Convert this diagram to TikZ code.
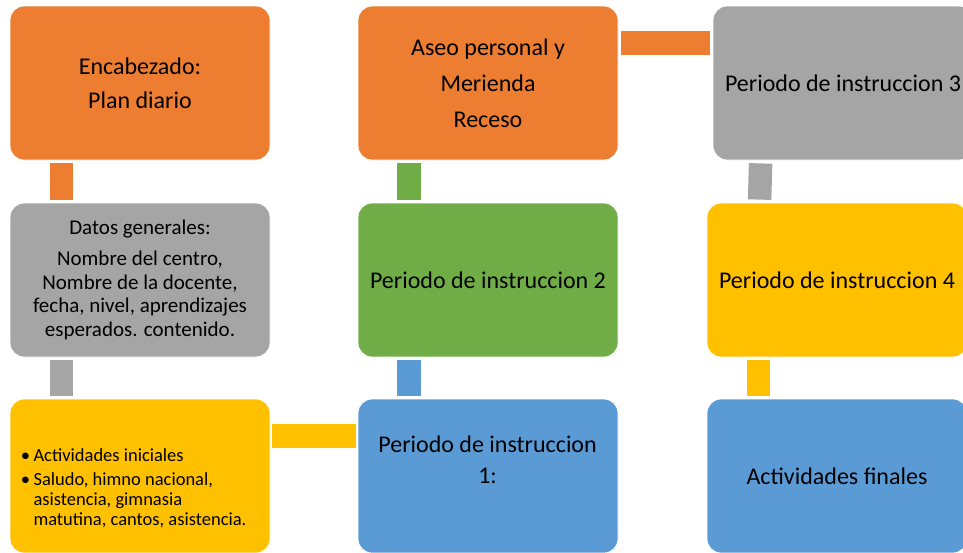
\documentclass[tikz,border=0pt]{standalone}
\usepackage{fontspec}
\setmainfont{Carlito}
\usetikzlibrary{calc}
\definecolor{cOrange}{HTML}{ED7D31}
\definecolor{cGray}{HTML}{A5A5A5}
\definecolor{cYellow}{HTML}{FFC000}
\definecolor{cBlue}{HTML}{5B9BD5}
\definecolor{cGreen}{HTML}{70AD47}
\begin{document}
\begin{tikzpicture}[x=1pt,y=-1pt,
  box/.style={rectangle, rounded corners=14pt, minimum width=260pt, minimum height=154pt,
    draw=white, line width=0.8pt, align=center, inner sep=0pt, font=\fontsize{24}{30}\selectfont},
  bar/.style={line width=23.5pt},
  lbl/.style={align=center, inner sep=0pt}]
\useasboundingbox (0,0) rectangle (963,552);
% boxes
\node[box, fill=cOrange, font=\fontsize{24}{34}\selectfont] (a) at (140,83) {Encabezado:\\Plan diario};
\node[box, fill=cGray, font=\fontsize{21}{23.5}\selectfont] (b) at (140,280) {Datos generales:\\[7.5pt]Nombre del centro,\\Nombre de la docente,\\fecha, nivel, aprendizajes\\esperados. contenido.};
\node[box, fill=cYellow] (c) at (140,476) {};
\node[box, fill=cBlue] (d) at (488,476) {};
\node[box, fill=cGreen] (e) at (488,280) {Periodo de instruccion 2};
\node[box, fill=cOrange, font=\fontsize{24}{36}\selectfont] (f) at (488,83) {Aseo personal y\\Merienda\\Receso};
\node[box, fill=cGray] (g) at (843,83) {Periodo de instruccion 3};
\node[box, fill=cYellow] (h) at (837,280) {Periodo de instruccion 4};
\node[box, fill=cBlue] (i) at (837,476) {Actividades finales};
% texts placed inside boxes
\node[lbl, anchor=base west, font=\fontsize{18.5}{20}\selectfont] (ct) at ($(c.north west)+(11,63)$)
  {\begin{tabular}[t]{@{}l@{\hspace{3.5pt}}l@{}}
   \textbullet & Actividades iniciales\\[3.5pt]
   \textbullet & Saludo, himno nacional,\\
    & asistencia, gimnasia\\
    & matutina, cantos, asistencia.
   \end{tabular}};
\node[lbl, font=\fontsize{24}{31}\selectfont] (dt) at ($(d.north west)+(130,61)$) {Periodo de instruccion\\1:};
% connectors
\draw[bar, cOrange] ($(a.south west)+(52,3)$) -- ($(b.north west)+(52,-3)$);
\draw[bar, cGray] ($(b.south west)+(52,3)$) -- ($(c.north west)+(52,-3)$);
\draw[bar, cYellow] ($(c.north east)+(2,37.5)$) -- ($(d.north west)+(-2,37.5)$);
\draw[bar, cBlue] ($(d.north west)+(51.5,-3)$) -- ($(e.south west)+(51.5,3)$);
\draw[bar, cGreen] ($(e.north west)+(51.5,-3)$) -- ($(f.south west)+(51.5,3)$);
\draw[bar, cOrange] ($(f.north east)+(3,37.5)$) -- ($(g.north west)+(-3,37.5)$);
\draw[bar, cGray] ($(g.south west)+(48,3)$) -- ($(h.north west)+(53,-3)$);
\draw[bar, cYellow] ($(h.south west)+(52,3)$) -- ($(i.north west)+(52,-3)$);
\end{tikzpicture}
\end{document}
